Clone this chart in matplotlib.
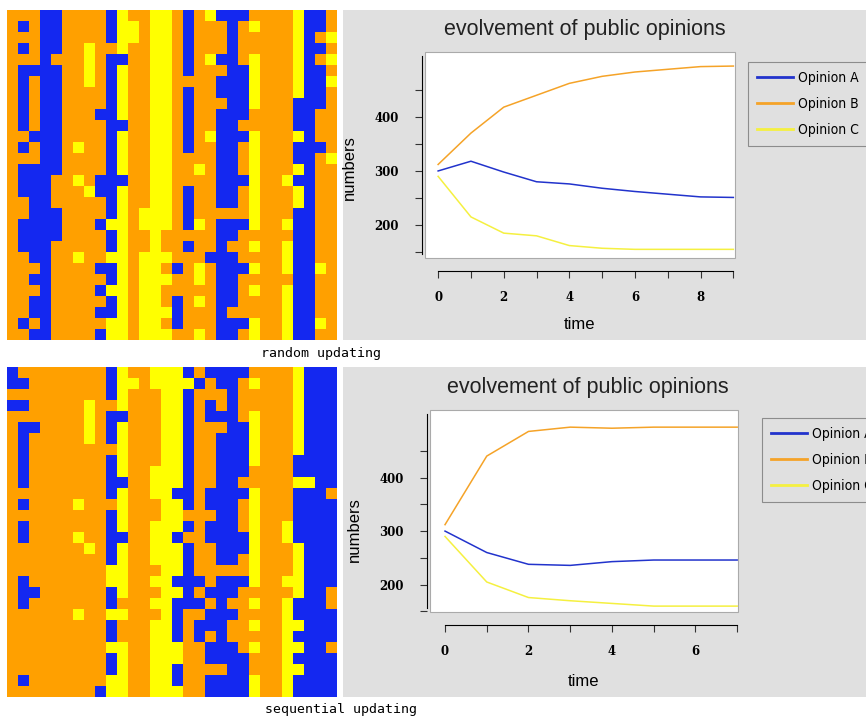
import numpy as np
import matplotlib.pyplot as plt
from matplotlib.colors import ListedColormap

W, H = 866, 720

# ── Data ──────────────────────────────────────────────────────────────────────
# cell states of the 30x30 lattice: B = opinion A, O = opinion B, Y = opinion C
random_grid = [
    "OOOBBOOOOBYOOYY" "OBOYBBBOOOOYBBO",
    "OBOBBOOOOBYYOYY" "OBOOOBOYOOOYBBO",
    "OOOBBOOOOBYYOYY" "OBOOOBOOOOOYBOY",
    "OBOBBOOYOOYOOYY" "OBOOOBOOOOOYBBO",
    "OOOBOOOYOBBOOYY" "OBOYBBOYOOOYBOY",
    "OBBBBOOYOBYOOYY" "OBOOOBBYOOOYBBO",
    "OBOBBOOYOBYOOYY" "OOOOBBBYOOOYBBY",
    "OBOBBOOOOBYOOYY" "OBOOBBBYOOOYBBO",
    "OBOBBOOOOBYOOYY" "OBOOOBBYOOOBBBO",
    "OBOBBOOOBBYOOYY" "OBOOBBBOOOOBBOO",
    "OBOBBOOOOBBOOYY" "OBOOBBOOOOOBBOO",
    "OOBBBOOOOBYOOYY" "OBOYBBBYOOOYBOO",
    "OBOBBOYOOBYOOYY" "OBOOBBOYOOOBBBO",
    "OOOBBOOOOBYOOYY" "OOOOBBOYOOOBBOY",
    "OBBBBOOOOBYOOYY" "OOYOBBOYOOOYBOO",
    "OBBBOOYOBBBOOYY" "OOOOBBBYOOYBBOO",
    "OBBBOOOYBBYOOYY" "OBOOBBOYOOOYBOO",
    "OOBBOOOOOBYOOYY" "OBOOBBOYOOOYBOO",
    "OOBBBOOOOBYOYYY" "OBOOOOOYOOOBBOO",
    "OBBBBOOOBYYOYYY" "OBYOBBBYOOYBBOO",
    "OBBBBOOOOBYOOYO" "OOOOBBOOOOOBBOO",
    "OBBBOOOOOBYOOYO" "OBOOBOOYOOYBBOO",
    "OOBBOOYOOYYOYYY" "OOOBBBOOOOYBBOO",
    "OOOBOOOOBBYOYYO" "BOYOBBBYOOYBBYO",
    "OOBBOOOOOBYOYYY" "OOYOBBOOOOOBBOO",
    "OOOBOOOOBYYOYYO" "OOOOBBOYOOYBBOO",
    "OOBBOOOOOBYOYYO" "BOYOBBOOOOYBBOO",
    "OOBBOOOOBBYOYYY" "BOOOBOOOOOYBBOO",
    "OBOBOOOOOYYOYYO" "BOOOBBBYOOYBBYO",
    "OOBBOOOOBYYOYYY" "OOYOBBOYOOYBBOO",
]

sequential_grid = [
    "BOOOOOOOOBYOOYY" "YBOBBBBOOOOYBBB",
    "BBOOOOOOOBYYOYY" "YYBOBBOYOOOYBBB",
    "OOOOOOOOOBYOOOY" "YBOOOBOOOOOYBBB",
    "BBOOOOOYOOYOOOY" "YBOBOBOOOOOYBBB",
    "OOOOOOOYOBBOOOY" "YBOBBBOYOOOYBBB",
    "OBBOOOOYOBYOOOY" "YBOOOBBYOOOYBBB",
    "OBOOOOOYOBYOOOY" "YBOOBBBYOOOYBBB",
    "OBOOOOOOOOYOOOY" "YBOOBBBYOOOYBBB",
    "OBOOOOOOOBYOOOY" "YBOOBBBYOOOBBBB",
    "OBOOOOOOOBYOOYY" "YBOOBBBOOOOBBBB",
    "OBOOOOOOOBBOOYY" "YBOOBBOOOOOYYBB",
    "OOOOOOOOOBYOOYY" "BBOBBBBYOOOBBBO",
    "OBOOOOYOOOYOOOY" "YBOBBBOYOOOBBBB",
    "OOOOOOOOOBYOOOY" "YOOOBBOYOOOBBBB",
    "OBOOOOOOOBYOOYY" "YBOBBBOYOOYBBBB",
    "OBOOOOYOOBBOOYY" "BOOBBBBYOOYBBBB",
    "OOOOOOOYOBYOOYY" "YBOOBBBYOOOYBBB",
    "OOOOOOOOOBYOOYY" "YBOOBBOYOOOYBBB",
    "OOOOOOOOOYYOOOY" "YBOOOOOYOOOYBBB",
    "OBOOOOOOOYYOOYY" "BBBOBBBYOOYYBBB",
    "OBBOOOOOOBYOOOY" "YBOBBBOOOOOYBBO",
    "OBOOOOOOOBOOOYY" "BBBOBOOYOOYBBBO",
    "OOOOOOYOOYYOOOY" "BOOBBBOOOOYBBBB",
    "OOOOOOOOOBOOOYY" "BOBBBOOYOOYYBBB",
    "OOOOOOOOOBOOOYY" "BOBOBOOOOOYBBBB",
    "OOOOOOOOOYYOOYY" "YOOBBBOYOOYYBBO",
    "OOOOOOOOOBYOOYY" "YOOBBBBOOOYBBBB",
    "OOOOOOOOOBYOOYY" "BOOOOBBOOOYYBBB",
    "OBOOOOOOOYYOOYY" "BOOBBBBYOOYBBBB",
    "OOOOOOOOBYYOOYY" "YOOBBBBYOOYBBBB",
]

t_random = [0, 1, 2, 3, 4, 5, 6, 7, 8, 9]
random_a = [300, 318, 298, 280, 276, 268, 262, 257, 252, 251]
random_b = [312, 370, 418, 440, 462, 475, 483, 488, 493, 494]
random_c = [290, 215, 185, 180, 162, 157, 155, 155, 155, 155]

t_seq = [0, 1, 2, 3, 4, 5, 6, 7]
seq_a = [300, 260, 238, 236, 243, 246, 246, 246]
seq_b = [312, 440, 486, 494, 492, 494, 494, 494]
seq_c = [290, 205, 176, 170, 165, 160, 160, 160]

labels = ["Opinion A", "Opinion B", "Opinion C"]

# ── Style ─────────────────────────────────────────────────────────────────────
CELL_COLORS = ['#1428f0', '#ffa000', '#ffff00']
LINE_COLORS = ['#2233cc', '#f5a328', '#f5f040']
PANEL = '#e0e0e0'
cell_code = {'B': 0, 'O': 1, 'Y': 2}

fig = plt.figure(figsize=(W / 100, H / 100), dpi=100, facecolor='white')


def px_axes(x0, y0, x1, y1):
    return fig.add_axes([x0 / W, 1 - y1 / H, (x1 - x0) / W, (y1 - y0) / H])


def draw_grid(rows, y0, caption, cap_x):
    ax = px_axes(7, y0, 337, y0 + 330)
    arr = np.array([[cell_code[ch] for ch in row] for row in rows])
    ax.imshow(arr, cmap=ListedColormap(CELL_COLORS), vmin=0, vmax=2,
              interpolation='nearest', aspect='auto')
    ax.set_axis_off()
    fig.text(cap_x / W, 1 - (y0 + 343) / H, caption, ha='center', va='center',
             family='DejaVu Sans Mono', fontsize=9.5)


def draw_chart(y0, t, series, plot_box, xlim, ylim, xticks, leg_xy, title_x,
               ylab_y, time_pad):
    panel = px_axes(343, y0, 866, y0 + 330)
    panel.set_facecolor(PANEL)
    panel.set_xticks([])
    panel.set_yticks([])
    for s in panel.spines.values():
        s.set_visible(False)
    panel.text((title_x - 343) / 523, 1 - 20 / 330,
               "evolvement of public opinions",
               transform=panel.transAxes, ha='center', va='center',
               family='Liberation Sans', fontsize=15.5, color='#222222')

    ax = px_axes(*plot_box)
    ax.set_facecolor('white')
    ax.patch.set_edgecolor('#aaaaaa')
    ax.patch.set_linewidth(0.8)
    for vals, col, lab in zip(series, LINE_COLORS, labels):
        ax.plot(t, vals, color=col, lw=1.1, label=lab)
    ax.set_xlim(*xlim)
    ax.set_ylim(*ylim)
    ax.spines['top'].set_visible(False)
    ax.spines['right'].set_visible(False)
    ax.spines['left'].set_position(('outward', 2))
    ax.spines['bottom'].set_position(('outward', 9))
    ax.spines['bottom'].set_bounds(0, t[-1])
    ax.spines['left'].set_bounds(ylim[0] + 8, ylim[1] - 8)
    ax.set_xticks(xticks)
    ax.set_xticks(t, minor=True)
    ax.set_yticks([200, 300, 400])
    ax.set_yticks([150, 250, 350, 450], minor=True)
    ax.tick_params(which='both', direction='out', length=5, width=0.8,
                   color='#333333')
    ax.tick_params(axis='x', pad=10)
    ax.tick_params(axis='y', pad=12)
    for lbl in ax.get_xticklabels() + ax.get_yticklabels():
        lbl.set_family('DejaVu Serif')
        lbl.set_fontweight('bold')
        lbl.set_fontsize(8.5)
    ax.set_xlabel("time", family='Liberation Sans', fontsize=12,
                  labelpad=time_pad)
    ax.set_ylabel("numbers", family='Liberation Sans', fontsize=12)
    ax.yaxis.set_label_coords(-0.22, ylab_y)

    leg = fig.legend(*ax.get_legend_handles_labels(), loc='upper left',
                     bbox_to_anchor=(leg_xy[0] / W, 1 - leg_xy[1] / H),
                     borderaxespad=0, frameon=True, fancybox=False,
                     facecolor=PANEL, edgecolor='#777777',
                     handlelength=2.6, handletextpad=0.35,
                     labelspacing=0.85, borderpad=0.65,
                     prop={'family': 'DejaVu Sans', 'stretch': 'condensed',
                           'size': 10})
    leg.get_frame().set_linewidth(0.8)
    for line in leg.get_lines():
        line.set_linewidth(2)


draw_grid(random_grid, 10, "random updating", 321)
draw_grid(sequential_grid, 367, "sequential updating", 341)

draw_chart(10, t_random, [random_a, random_b, random_c],
           (425, 52, 735, 258), (-0.4, 9.05), (139, 520),
           [0, 2, 4, 6, 8], (748, 62), 585, 0.44, 9)
draw_chart(367, t_seq, [seq_a, seq_b, seq_c],
           (430, 410, 738, 612), (-0.36, 7.02), (149, 526),
           [0, 2, 4, 6], (762, 418), 588, 0.41, 11)

fig.savefig("out.png", dpi=100, facecolor='white')
